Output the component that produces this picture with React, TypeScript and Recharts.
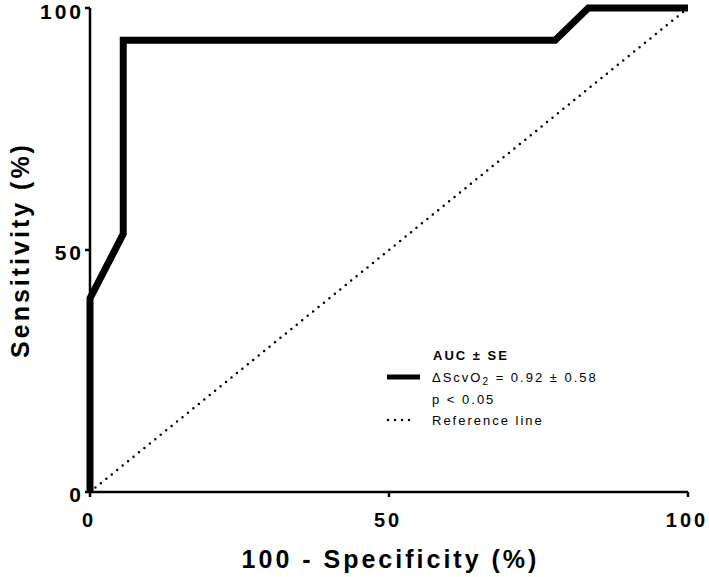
import { LineChart, Line, XAxis, YAxis, Legend } from "recharts";

// ROC curve (steps of 1/15 sensitivity, 1/18 specificity)
const rocX = [0, 0, 5.56, 5.56, 77.78, 83.33, 100];
const rocY = [0, 40, 53.33, 93.33, 93.33, 100, 100];

const refX = [0, 100];
const refY = [0, 100];

const xTicks = [0, 50, 100];
const yTicks = [0, 50, 100];

const roc = rocX.map((x, i) => ({ x, y: rocY[i] }));
const reference = refX.map((x, i) => ({ x, y: refY[i] }));

const FONT = '"Liberation Sans", Arial, sans-serif';

const XTick = ({ x, y, payload }: any) => (
  <text
    x={x - 1}
    y={y}
    dy={28}
    textAnchor="middle"
    fontFamily={FONT}
    fontWeight="bold"
    fontSize={20}
    letterSpacing={3}
    fill="#000"
  >
    {payload.value}
  </text>
);

const YTick = ({ x, y, payload }: any) => (
  <text
    x={x + 1}
    y={y}
    dy={9.5}
    textAnchor="end"
    fontFamily={FONT}
    fontWeight="bold"
    fontSize={21}
    letterSpacing={3}
    fill="#000"
  >
    {payload.value}
  </text>
);

const RocLegend = () => (
  <svg width={250} height={110} style={{ display: "block" }}>
    <g fontFamily={FONT} fontSize={13} letterSpacing={2} fill="#000">
      <text x={63} y={25} dominantBaseline="central" fontWeight="bold">
        AUC ± SE
      </text>
      <line x1={17} x2={50} y1={47} y2={47} stroke="#000" strokeWidth={5} />
      <text x={62} y={47} dominantBaseline="central">
        ΔScvO
        <tspan fontSize={10} dy={4}>2</tspan>
        <tspan dy={-4}> = 0.92 ± 0.58</tspan>
      </text>
      <text x={62} y={69} dominantBaseline="central">
        p &lt; 0.05
      </text>
      <line
        x1={18}
        x2={44}
        y1={90}
        y2={90}
        stroke="#000"
        strokeWidth={2.5}
        strokeDasharray="0 7"
        strokeLinecap="round"
      />
      <text x={62} y={90} dominantBaseline="central">
        Reference line
      </text>
    </g>
  </svg>
);

export default function App() {
  return (
    <div style={{ position: "absolute", left: 0, top: 0, width: 709, height: 577, background: "#fff" }}>
      <LineChart width={709} height={577} margin={{ top: 8, right: 21, bottom: 0, left: 0 }}>
        <XAxis
          type="number"
          dataKey="x"
          domain={[0, 100]}
          ticks={xTicks}
          height={85}
          tickSize={5}
          tickMargin={2}
          axisLine={{ stroke: "#000", strokeWidth: 2.5 }}
          tickLine={{ stroke: "#000", strokeWidth: 2.5 }}
          tick={<XTick />}
          label={({ viewBox }: any) => (
            <text
              x={viewBox.x + viewBox.width / 2 + 1.5}
              y={568}
              textAnchor="middle"
              fontFamily={FONT}
              fontWeight="bold"
              fontSize={25}
              letterSpacing={3}
              fill="#000"
            >
              100 - Specificity (%)
            </text>
          )}
        />
        <YAxis
          type="number"
          dataKey="y"
          domain={[0, 100]}
          ticks={yTicks}
          width={90}
          tickSize={5}
          tickMargin={2}
          axisLine={{ stroke: "#000", strokeWidth: 2.5 }}
          tickLine={{ stroke: "#000", strokeWidth: 2.5 }}
          tick={<YTick />}
          label={({ viewBox }: any) => {
            const cy = viewBox.y + viewBox.height / 2;
            return (
              <text
                x={0}
                y={0}
                transform={`translate(29, ${cy}) rotate(-90)`}
                textAnchor="middle"
                fontFamily={FONT}
                fontWeight="bold"
                fontSize={25}
                letterSpacing={3}
                fill="#000"
              >
                Sensitivity (%)
              </text>
            );
          }}
        />
        <Line
          data={reference}
          dataKey="y"
          name="Reference line"
          stroke="#000"
          strokeWidth={2.5}
          strokeDasharray="0 7"
          strokeLinecap="round"
          dot={false}
          activeDot={false}
          isAnimationActive={false}
        />
        <Line
          data={roc}
          dataKey="y"
          name="ΔScvO2"
          stroke="#000"
          strokeWidth={7}
          strokeLinejoin="miter"
          dot={false}
          activeDot={false}
          isAnimationActive={false}
        />
        <Legend
          layout="vertical"
          align="center"
          verticalAlign="middle"
          content={<RocLegend />}
          wrapperStyle={{ left: 370, top: 330, width: 250, height: 110 }}
        />
      </LineChart>
    </div>
  );
}
